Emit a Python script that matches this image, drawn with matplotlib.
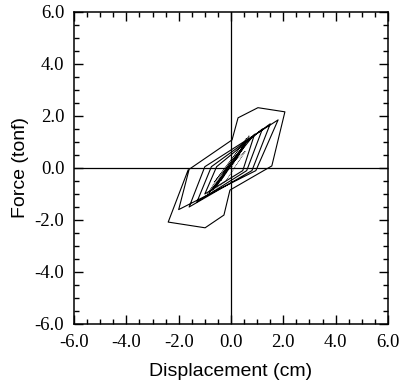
import numpy as np
import matplotlib.pyplot as plt
from matplotlib.ticker import MultipleLocator, FormatStrFormatter

plt.rcParams["axes.unicode_minus"] = False

# small cycles near the origin (dense cloud in the middle)
small_disp = [0.0, 0.35, 0.15, -0.4, -0.2, 0.5, 0.3, -0.55, -0.35, 0.6, 0.4, -0.7,
              -0.45, 0.55, 0.3, -0.6, -0.4, 0.65, 0.45, -0.8, -0.55, 0.2, 0.0,
              0.7, 0.5, -0.85, -0.6, 0.45, 0.25, -0.65, -0.3, 0.6, 0.1, -0.5,
              -0.9, -0.2, 0.55, 0.05]
small_force = [0.0, 0.6, 0.3, -0.5, -0.2, 0.8, 0.5, -0.7, -0.4, 1.0, 0.7, -0.85,
               -0.5, 0.95, 0.6, -0.75, -0.45, 1.1, 0.8, -0.9, -0.6, 0.4, 0.1,
               1.25, 0.9, -0.95, -0.65, 0.75, 0.55, -0.55, -0.15, 1.15, 0.45, -0.35,
               -1.0, -0.5, 0.65, 0.2]

# growing hysteresis loops and the outer loop
disp = [-0.3, 0.9, 0.45, -1.0, -0.55, 1.2, 0.6, -1.3, -0.75, 1.5, 0.8, -1.6, -1.0,
        1.8, 0.95, -2.0, -1.6, 0.04, 0.27, 1.03, 2.06, 1.56, -0.04, -0.27, -0.99,
        -2.40, -1.64]
force = [-0.2, 1.3, -0.1, -1.0, 0.05, 1.5, -0.1, -1.3, 0.05, 1.7, -0.1, -1.5, 0.05,
         1.85, -0.1, -1.6, -0.05, 1.08, 1.93, 2.32, 2.16, 0.08, -0.85, -1.81, -2.30,
         -2.08, -0.08]

fig = plt.figure(figsize=(4.01, 3.82), dpi=100)
ax = fig.add_axes([74 / 401, 58 / 382, 314 / 401, 312 / 382])

ax.axhline(0, color="black", linewidth=0.9)
ax.axvline(0, color="black", linewidth=0.9)
ax.plot(small_disp, small_force, color="black", linewidth=0.6, linestyle=(0, (1, 1)))
ax.plot(disp, force, color="black", linewidth=0.8)

ax.set_xlim(-6, 6)
ax.set_ylim(-6, 6)
for a in (ax.xaxis, ax.yaxis):
    a.set_major_locator(MultipleLocator(2))
    a.set_minor_locator(MultipleLocator(0.5))
    a.set_major_formatter(FormatStrFormatter("%.1f"))
ax.tick_params(which="both", direction="in", top=True, right=True, width=1,
               labelsize=13.5, pad=7, labelfontfamily="Liberation Serif")
ax.tick_params(which="major", length=6.5)
ax.tick_params(which="minor", length=3.5)
for s in ax.spines.values():
    s.set_linewidth(1.1)

ax.set_xlabel("Displacement (cm)", fontsize=14, fontfamily="Liberation Sans", labelpad=9)
ax.set_ylabel("Force (tonf)", fontsize=14, fontfamily="Liberation Sans", labelpad=4)

fig.savefig("out.png", dpi=100)
